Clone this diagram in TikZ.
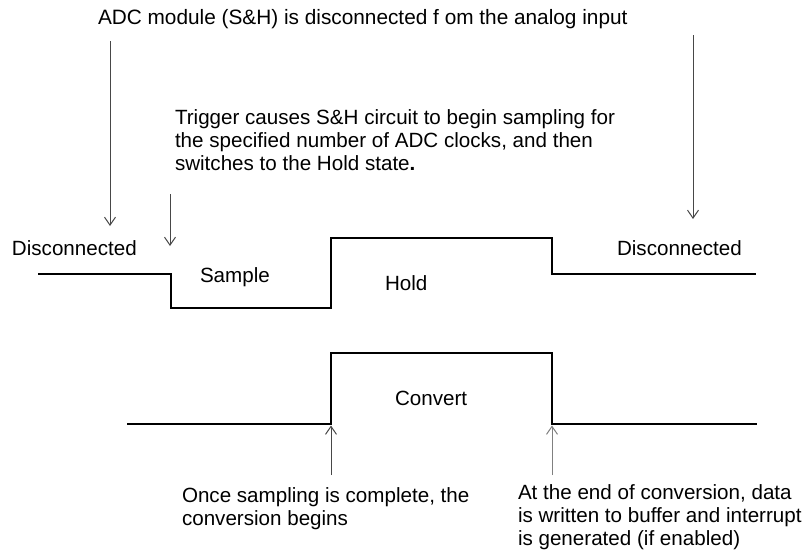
\documentclass[tikz,border=0pt]{standalone}
\usepackage{fontspec}
\setmainfont{Liberation Sans}
\usetikzlibrary{arrows.meta}
\begin{document}
\begin{tikzpicture}[x=1pt,y=-1pt,
  every node/.style={font=\fontsize{20.6}{23}\selectfont, inner sep=0pt, outer sep=0pt},
  wave/.style={line width=2.2pt, line join=miter, line cap=butt},
  pointer/.style={line width=1pt, draw=black!72, -{Straight Barb[length=8pt,width=11pt,line width=1pt]}},
  lightpointer/.style={pointer, draw=black!50}]
\fill[white] (0,0) rectangle (804,557);
\useasboundingbox (0,0) rectangle (804,557);

% texts
\node[anchor=base west, font=\fontsize{20.8}{23}\selectfont] (top) at (98,24) {ADC module (S\&H) is disconnected f om the analog input};
\node[anchor=north west, align=left, font=\fontsize{20.6}{23.2}\selectfont] (trig) at (175,109.5) {Trigger causes S\&H circuit to begin sampling for\\the specified number of ADC clocks, and then\\switches to the Hold state\textbf{.}};
\node[anchor=base west] (dl) at (12,255) {Disconnected};
\node[anchor=base west] (dr) at (617,255) {Disconnected};
\node[anchor=base west] (smp) at (200,282) {Sample};
\node[anchor=base west] (hold) at (385,290) {Hold};
\node[anchor=base west] (conv) at (395,405) {Convert};
\node[anchor=north west, align=left] (once) at (182,488) {Once sampling is complete, the\\conversion begins};
\node[anchor=north west, align=left] (endc) at (518,485) {At the end of conversion, data\\is written to buffer and interrupt\\is generated (if enabled)};

% waveform corners
\coordinate (s0) at (38,274);
\coordinate (s1) at (171,274);
\coordinate (s2) at (171,308);
\coordinate (s3) at (331,308);
\coordinate (s4) at (331,238);
\coordinate (s5) at (552,238);
\coordinate (s6) at (552,274);
\coordinate (s7) at (756,274);
\coordinate (c0) at (127,424);
\coordinate (c1) at (331,424);
\coordinate (c2) at (331,353);
\coordinate (c3) at (552,353);
\coordinate (c4) at (552,424);
\coordinate (c5) at (757,424);

\draw[wave] (s0) -- (s1) -- (s2) -- (s3) -- (s4) -- (s5) -- (s6) -- (s7);
\draw[wave] (c0) -- (c1) -- (c2) -- (c3) -- (c4) -- (c5);

% pointer arrows
\coordinate (p1s) at (110,41);
\coordinate (p1e) at (110,226);
\coordinate (p2s) at (170,194);
\coordinate (p2e) at (170,246);
\coordinate (p3s) at (693,35);
\coordinate (p3e) at (693,219);
\coordinate (q1s) at (331,475);
\coordinate (q2s) at (552,475);

\draw[pointer] (p1s) -- (p1e);
\draw[pointer] (p2s) -- (p2e);
\draw[pointer] (p3s) -- (p3e);
\draw[pointer, shorten >=1.5pt] (q1s) -- (c1);
\draw[lightpointer, shorten >=1.5pt] (q2s) -- (c4);
\end{tikzpicture}
\end{document}
